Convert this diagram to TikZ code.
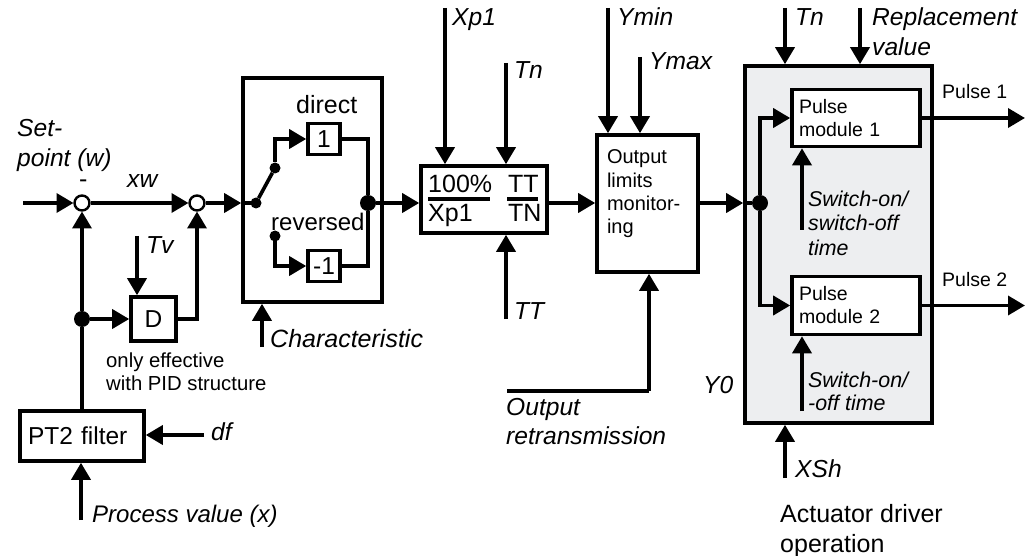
\documentclass[tikz,border=0pt]{standalone}
\usepackage{fontspec}
\setmainfont{Liberation Sans}
\usetikzlibrary{arrows.meta}
\definecolor{panel}{HTML}{EDEEF0}
\tikzset{
  wire/.style={line width=3.6pt},
  arr/.style={wire,-{Triangle[length=17pt,width=19pt]}},
  box/.style={draw=black,line width=3.6pt,fill=white,inner sep=0pt,align=left},
  dot/.style={circle,fill=black,inner sep=0pt,minimum size=#1,outer sep=0pt},
  summer/.style={circle,draw=black,line width=2.4pt,fill=white,inner sep=0pt,minimum size=15pt,outer sep=1pt},
  lab/.style={inner sep=0pt,anchor=base west,font=\fontsize{24.6}{28}\selectfont\itshape},
  sublab/.style={inner sep=0pt,anchor=base west,font=\fontsize{21.4}{24}\selectfont\itshape},
  plain/.style={inner sep=0pt,anchor=base west,font=\fontsize{25}{30}\selectfont},
  small/.style={inner sep=0pt,anchor=base west,font=\fontsize{19.5}{23}\selectfont},
  note/.style={inner sep=0pt,anchor=base west,font=\fontsize{20.3}{23}\selectfont},
  fracrule/.style={line width=3.6pt},
}
\begin{document}
\begin{tikzpicture}[x=1pt,y=-1pt]
\useasboundingbox (0,0) rectangle (1028,556);
% blocks
\node[box,minimum width=139pt,minimum height=224pt] (char) at (312.5,190) {};
\node[box,minimum width=32pt,minimum height=31pt,font=\fontsize{24.5}{28}\selectfont,align=center] (one) at (324,139) {1};
\node[box,minimum width=32pt,minimum height=31pt,font=\fontsize{24.5}{28}\selectfont,align=center] (mone) at (324,266) {-1};
\node[box,minimum width=45pt,minimum height=44pt,font=\fontsize{24.5}{28}\selectfont,align=center] (dblock) at (153.5,319) {D};
\node[box,minimum width=124pt,minimum height=50pt,text width=108pt,font=\fontsize{24.5}{28}\selectfont] (pt2) at (82,436) {PT2 filter};
\node[box,minimum width=126pt,minimum height=67pt] (pid) at (484,199.5) {};
\node[box,minimum width=101pt,minimum height=137pt,text width=81pt,font=\fontsize{20}{23.3}\selectfont] (limits) at (647.5,203.5) {Output\\limits\\monitor-\\ing\\[0pt]\mbox{}};
\node[draw=black,line width=3.6pt,fill=panel,minimum width=187pt,minimum height=357pt,inner sep=0pt] (panel) at (838.5,244.5) {};
\node[box,minimum width=128pt,minimum height=57pt,text width=114pt,font=\fontsize{19.5}{23}\selectfont] (p1) at (856,118) {Pulse\\module 1};
\node[box,minimum width=128pt,minimum height=58pt,text width=114pt,font=\fontsize{19.5}{23}\selectfont] (p2) at (856,305.5) {Pulse\\module 2};
% junctions
\node[summer] (s1) at (82,203) {};
\node[summer] (s2) at (197,203) {};
\node[dot=16pt] (jd) at (82,319) {};
\node[dot=11pt] (sw0) at (256,203) {};
\node[dot=11pt] (sw1) at (275,168) {};
\node[dot=11pt] (sw2) at (275,236) {};
\node[dot=16pt] (jc) at (368,203) {};
\node[dot=16pt] (jp) at (760,203) {};
% free ends
\coordinate (in) at (23,203);
\coordinate (tv) at (137,236);
\coordinate (dfs) at (204,435);
\coordinate (xs) at (81,520);
\coordinate (cs) at (262,347);
\coordinate (xp) at (445,8);
\coordinate (tn) at (506,63);
\coordinate (tt) at (506,319);
\coordinate (ymin) at (608,8);
\coordinate (ymax) at (640,57);
\coordinate (ors) at (507,391);
\coordinate (orc) at (649,391);
\coordinate (tn2) at (785,8);
\coordinate (rv) at (860,8);
\coordinate (xsh) at (785,478);
\coordinate (sw1s) at (802,230);
\coordinate (sw2s) at (802,411);
\coordinate (o1) at (1025,118);
\coordinate (o2) at (1025,305.5);
\coordinate (fa) at (428,199);
\coordinate (fb) at (490,199);
\coordinate (fc) at (507,199);
\coordinate (fd) at (538,199);
% connectors
\draw[arr] (in) -- (s1);
\draw[arr] (s1) -- (s2);
\draw[arr] (s2) -- (char.west |- s2);
\draw[wire] (char.west |- s2) -- (sw0);
\draw[wire] (sw0) -- (sw1);
\draw[arr] (sw1) |- (one);
\draw[arr] (sw2) |- (mone);
\draw[wire] (one) -| (jc);
\draw[wire] (mone) -| (jc);
\draw[arr] (jc) -- (pid.west |- jc);
\draw[wire] (pt2.north -| s1) -- (jd);
\draw[arr] (jd) -- (s1);
\draw[arr] (jd) -- (dblock);
\draw[arr] (dblock) -| (s2);
\draw[arr] (tv) -- (tv |- dblock.north);
\draw[arr] (dfs) -- (pt2.east |- dfs);
\draw[arr] (xs) -- (xs |- pt2.south);
\draw[arr] (cs) -- (cs |- char.south);
\draw[arr] (xp) -- (xp |- pid.north);
\draw[arr] (tn) -- (tn |- pid.north);
\draw[arr] (tt) -- (tt |- pid.south);
\draw[arr] (pid.east |- jc) -- (limits.west |- jc);
\draw[arr] (ymin) -- (ymin |- limits.north);
\draw[arr] (ymax) -- (ymax |- limits.north);
\draw[wire] (ors) -- (orc);
\draw[arr] (orc) -- (orc |- limits.south);
\draw[arr] (limits.east |- jc) -- (panel.west |- jc);
\draw[wire] (panel.west |- jc) -- (jp);
\draw[arr] (jp) |- (p1);
\draw[arr] (jp) |- (p2);
\draw[arr] (p1) -- (o1);
\draw[arr] (p2) -- (o2);
\draw[arr] (sw1s) -- (sw1s |- p1.south);
\draw[arr] (sw2s) -- (sw2s |- p2.south);
\draw[arr] (tn2) -- (tn2 |- panel.north);
\draw[arr] (rv) -- (rv |- panel.north);
\draw[arr] (xsh) -- (xsh |- panel.south);
\draw[fracrule] (fa) -- (fb);
\draw[fracrule] (fc) -- (fd);
% labels
\node[lab] (l1) at (17,137) {Set-};
\node[lab] (l2) at (17,167) {point (w)};
\node[plain,text height=7pt,text depth=0pt] (l3) at (79,188) {-};
\node[lab] (l4) at (127,188) {xw};
\node[lab] (l5) at (146,253) {Tv};
\node[plain] (l6) at (296,114) {direct};
\node[plain,font=\fontsize{24}{30}\selectfont] (l7) at (271,231) {reversed};
\node[lab,font=\fontsize{25}{28}\selectfont\itshape] (l8) at (270,347) {Characteristic};
\node[note] (l9) at (106,367) {only effective};
\node[note] (l10) at (106,390) {with PID structure};
\node[lab] (l11) at (211,440) {df};
\node[lab,font=\fontsize{24}{28}\selectfont\itshape] (l12) at (92,522) {Process value (x)};
\node[lab] (l13) at (452,26) {Xp1};
\node[lab] (l14) at (514,79) {Tn};
\node[plain] (l15) at (428,193) {100\%};
\node[plain] (l16) at (428,222) {Xp1};
\node[plain] (l17) at (508,193) {TT};
\node[plain] (l18) at (508,222) {TN};
\node[lab] (l19) at (514,319) {TT};
\node[lab] (l20) at (617,26) {Ymin};
\node[lab] (l21) at (649,70) {Ymax};
\node[lab] (l22) at (506,415) {Output};
\node[lab] (l23) at (506,444) {retransmission};
\node[lab] (l24) at (795,26) {Tn};
\node[lab] (l25) at (872,26) {Replacement};
\node[lab] (l26) at (872,56) {value};
\node[small] (l27) at (942,99) {Pulse 1};
\node[small] (l28) at (942,286) {Pulse 2};
\node[sublab] (l29) at (808,207) {Switch-on/};
\node[sublab] (l30) at (808,231) {switch-off};
\node[sublab] (l31) at (808,255) {time};
\node[sublab] (l32) at (808,387) {Switch-on/};
\node[sublab] (l33) at (808,410) {-off time};
\node[lab] (l34) at (703,393) {Y0};
\node[lab] (l35) at (795,477) {XSh};
\node[plain] (l36) at (780,522) {Actuator driver};
\node[plain] (l37) at (780,552) {operation};
\end{tikzpicture}
\end{document}
